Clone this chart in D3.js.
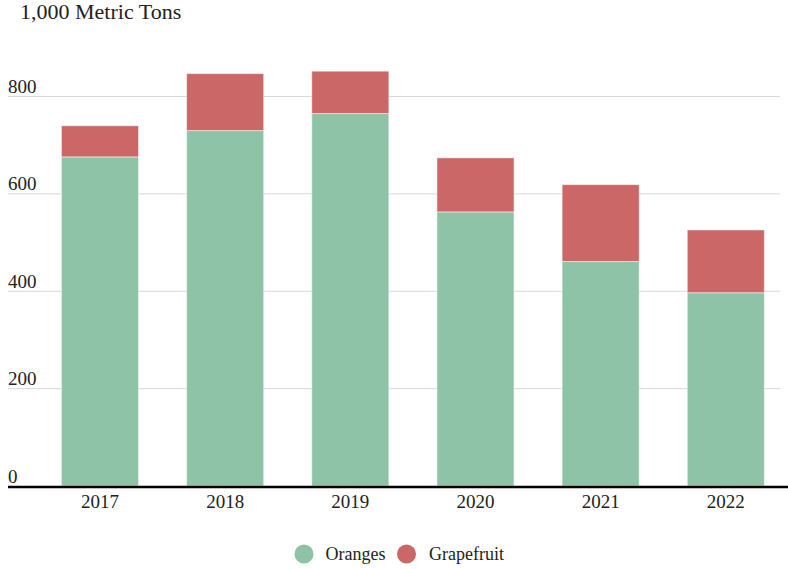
<!DOCTYPE html>
<html><head><meta charset="utf-8">
<script src="https://cdn.jsdelivr.net/npm/d3@7"></script>
</head><body style="margin:0;background:#fff">
<svg id="c" width="788" height="569" style="display:block"></svg>
<script>
const years = ["2017","2018","2019","2020","2021","2022"];
const oranges = [676, 730, 765, 563, 461, 397];
const grapefruit = [64, 117, 87, 111, 158, 129];
const yTicks = [0, 200, 400, 600, 800];
const seriesNames = ["Oranges", "Grapefruit"];
const colors = ["#8fc3a7", "#cb6767"];
const FONT = "'Liberation Serif', 'Times New Roman', serif";

const svg = d3.select("#c");
const x = d3.scaleBand().domain(years).range([37.4, 788.4]).paddingInner(0.384).paddingOuter(0.192);
const y = d3.scaleLinear().domain([0, 800]).range([486, 96.5]);

svg.append("text").attr("x", 20).attr("y", 19).style("font-family", FONT).style("font-size", "22px")
  .attr("fill", "#222").text("1,000 Metric Tons");

// gridlines
svg.append("g").selectAll("line").data(yTicks.filter(d => d > 0)).join("line")
  .attr("x1", 8).attr("x2", 780).attr("y1", d => y(d)).attr("y2", d => y(d))
  .attr("stroke", "#d9d9d9").attr("stroke-width", 1);
svg.append("g").selectAll("text").data(yTicks).join("text")
  .attr("x", 8).attr("y", d => y(d) - 3.5).style("font-family", FONT).style("font-size", "19px")
  .attr("fill", "#222").text(d => d);

const data = years.map((yr, i) => ({year: yr, Oranges: oranges[i], Grapefruit: grapefruit[i]}));
const stack = d3.stack().keys(seriesNames)(data);
svg.append("g").selectAll("g").data(stack).join("g")
  .attr("fill", (d, i) => colors[i])
  .selectAll("rect").data(d => d).join("rect")
  .attr("x", d => x(d.data.year)).attr("width", x.bandwidth())
  .attr("y", d => y(d[1])).attr("height", d => y(d[0]) - y(d[1]))
  .attr("stroke", "rgba(255,255,255,0.5)").attr("stroke-width", 1);

// x axis
svg.append("line").attr("x1", 8).attr("x2", 788).attr("y1", y(0) + 1).attr("y2", y(0) + 1)
  .attr("stroke", "#000").attr("stroke-width", 2.5);
const xa = svg.append("g").attr("transform", `translate(0,${y(0) + 1})`)
  .call(d3.axisBottom(x).tickSize(0).tickPadding(0));
xa.select(".domain").remove();
xa.selectAll("text").attr("dy", null).attr("y", 21)
  .style("font-family", FONT).style("font-size", "19px").attr("fill", "#222");

// legend
const leg = [{name: "Oranges", cx: 304, tx: 325.5}, {name: "Grapefruit", cx: 406.5, tx: 429}];
const lg = svg.append("g");
lg.selectAll("circle").data(leg).join("circle").attr("cx", d => d.cx).attr("cy", 554).attr("r", 9.5)
  .attr("fill", (d, i) => colors[i]);
lg.selectAll("text").data(leg).join("text").attr("x", d => d.tx).attr("y", 559.5)
  .style("font-family", FONT).style("font-size", "18px").attr("fill", "#222").text(d => d.name);
</script>
</body></html>
